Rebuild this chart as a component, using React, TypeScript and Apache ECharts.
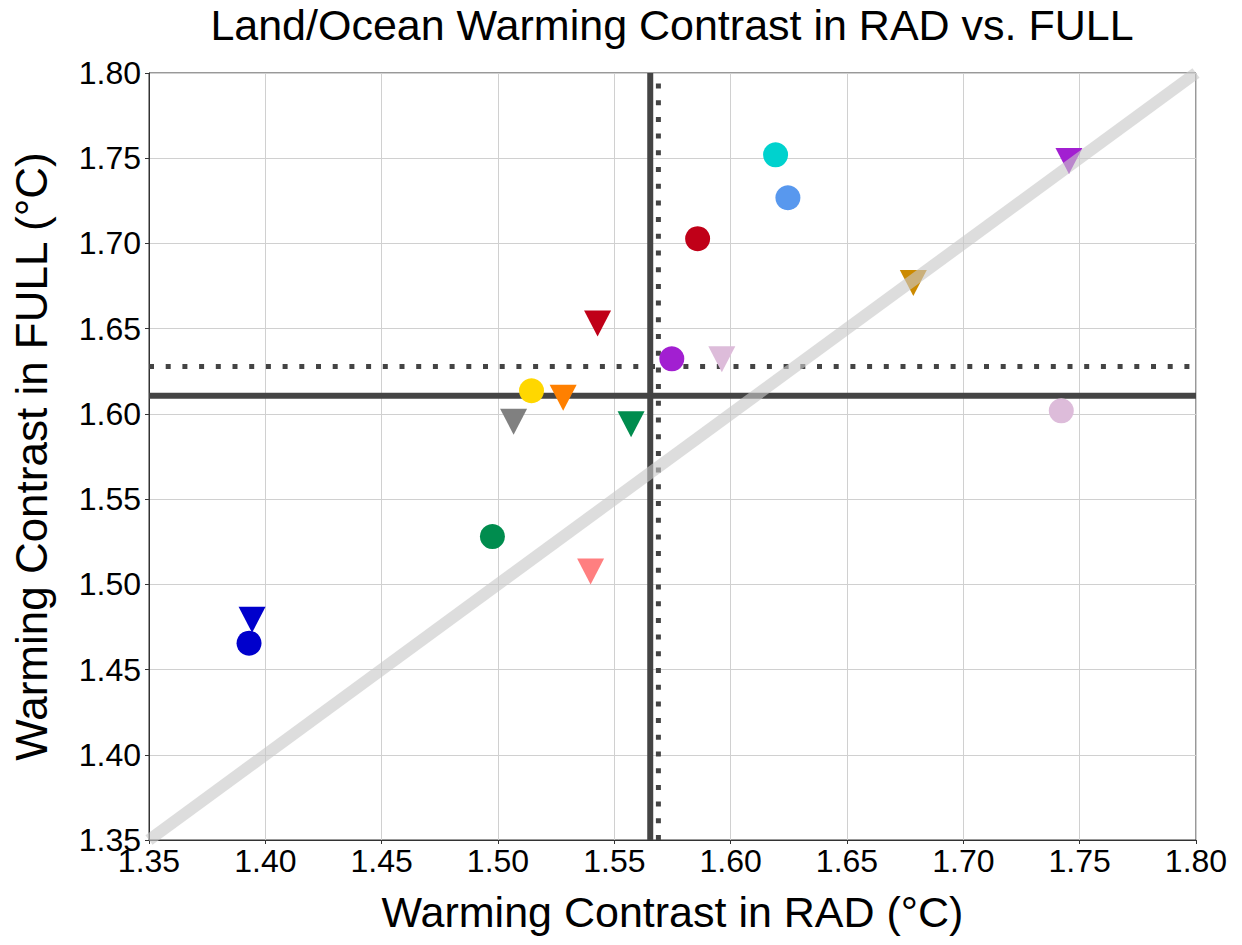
import React, { useEffect, useRef } from "react";
import * as echarts from "echarts";

// Circles (one marker set)
const circleRad = [1.393, 1.4976, 1.5144, 1.5747, 1.5858, 1.6193, 1.6246, 1.7421];
const circleFull = [1.4655, 1.528, 1.6136, 1.6323, 1.7028, 1.752, 1.7268, 1.6018];
const circleColors = ["#0000CC", "#008C4E", "#FFD700", "#A21FD1", "#C00018", "#00D2CE", "#5898EE", "#DDBCDA"];

// Triangles (second marker set)
const triRad = [1.3943, 1.5398, 1.5067, 1.528, 1.5572, 1.5428, 1.5962, 1.6785, 1.7454];
const triFull = [1.4792, 1.5075, 1.5954, 1.6095, 1.5939, 1.653, 1.632, 1.6768, 1.7484];
const triColors = ["#0000CC", "#FF7F80", "#808080", "#FF8000", "#008C4E", "#C00018", "#DDBCDA", "#CC8A00", "#A21FD1"];

const axisTicks = [1.35, 1.4, 1.45, 1.5, 1.55, 1.6, 1.65, 1.7, 1.75, 1.8];
const axisMin = 1.35;
const axisMax = 1.8;
const tickStep = 0.05;

const mean = (a: number[]) => a.reduce((s, v) => s + v, 0) / a.length;

const FONT = "'Liberation Sans', Arial, Helvetica, sans-serif";

export default function App() {
  const ref = useRef<HTMLDivElement>(null);
  useEffect(() => {
    if (!ref.current) return;
    const chart = echarts.init(ref.current, undefined, { renderer: "svg" });

    const circMeanX = mean(circleRad);
    const circMeanY = mean(circleFull);
    const triMeanX = mean(triRad);
    const triMeanY = mean(triFull);

    const vline = (x: number) => [[x, axisMin], [x, axisMax]];
    const hline = (y: number) => [[axisMin, y], [axisMax, y]];

    const solidStyle = { color: "#444444", width: 6, type: "solid" as const };
    const dotStyle = { color: "#444444", width: 5, type: [5, 11.7] as any };

    const lineSeries = (data: number[][], lineStyle: any, z: number) => ({
      type: "line",
      data,
      symbol: "none",
      lineStyle,
      z,
      silent: true,
      animation: false,
    });

    const fmt = (v: number) => {
      const t = axisTicks.find((a) => Math.abs(a - v) < 1e-6);
      return (t ?? v).toFixed(2);
    };

    const option: any = {
      animation: false,
      backgroundColor: "#ffffff",
      textStyle: { fontFamily: FONT },
      grid: {
        left: 149,
        right: 46,
        top: 73,
        bottom: 105,
        show: true,
        borderColor: "#333",
        borderWidth: 1,
        containLabel: false,
      },
      graphic: [
        {
          type: "text",
          x: 672,
          y: 25,
          style: {
            text: "Land/Ocean Warming Contrast in RAD vs. FULL",
            font: `43px ${FONT}`,
            fill: "#000",
            textAlign: "center",
            textVerticalAlign: "middle",
          },
        },
      ],
      xAxis: {
        type: "value",
        min: axisMin,
        max: axisMax,
        interval: tickStep,
        name: "Warming Contrast in RAD (°C)",
        nameLocation: "middle",
        nameGap: 50,
        nameTextStyle: { fontSize: 43, color: "#000", fontFamily: FONT },
        axisLine: { show: true, lineStyle: { color: "#333", width: 1 } },
        axisTick: { show: true, length: 4, lineStyle: { color: "#333" } },
        axisLabel: { fontSize: 32, color: "#000", fontFamily: FONT, margin: 5, formatter: fmt },
        splitLine: { show: true, lineStyle: { color: "#d0d0d0", width: 1 } },
      },
      yAxis: {
        type: "value",
        min: axisMin,
        max: axisMax,
        interval: tickStep,
        name: "Warming Contrast in FULL (°C)",
        nameLocation: "middle",
        nameGap: 96,
        nameRotate: 90,
        nameTextStyle: { fontSize: 44, color: "#000", fontFamily: FONT },
        axisLine: { show: true, lineStyle: { color: "#333", width: 1 } },
        axisTick: { show: true, length: 4, lineStyle: { color: "#333" } },
        axisLabel: { fontSize: 32, color: "#000", fontFamily: FONT, margin: 8, formatter: fmt },
        splitLine: { show: true, lineStyle: { color: "#d0d0d0", width: 1 } },
      },
      series: [
        lineSeries(vline(triMeanX), solidStyle, 2),
        lineSeries(hline(triMeanY), solidStyle, 2),
        lineSeries(vline(circMeanX), dotStyle, 2),
        lineSeries(hline(circMeanY), dotStyle, 2),
        {
          type: "scatter",
          symbol: "circle",
          symbolSize: 25,
          z: 3,
          data: circleRad.map((x, i) => ({
            value: [x, circleFull[i]],
            itemStyle: { color: circleColors[i], opacity: 1 },
          })),
        },
        {
          type: "scatter",
          symbol: "triangle",
          symbolRotate: 180,
          symbolSize: [27, 26],
          z: 3,
          data: triRad.map((x, i) => ({
            value: [x, triFull[i]],
            itemStyle: { color: triColors[i], opacity: 1 },
          })),
        },
        lineSeries(
          [
            [axisMin, axisMin],
            [axisMax, axisMax],
          ],
          { color: "rgba(200,200,200,0.62)", width: 12, type: "solid" },
          4
        ),
      ],
    };
    chart.setOption(option);
    return () => chart.dispose();
  }, []);
  return (
    <div
      ref={ref}
      style={{ position: "fixed", left: 0, top: 0, width: 1242, height: 945, background: "#fff" }}
    />
  );
}
